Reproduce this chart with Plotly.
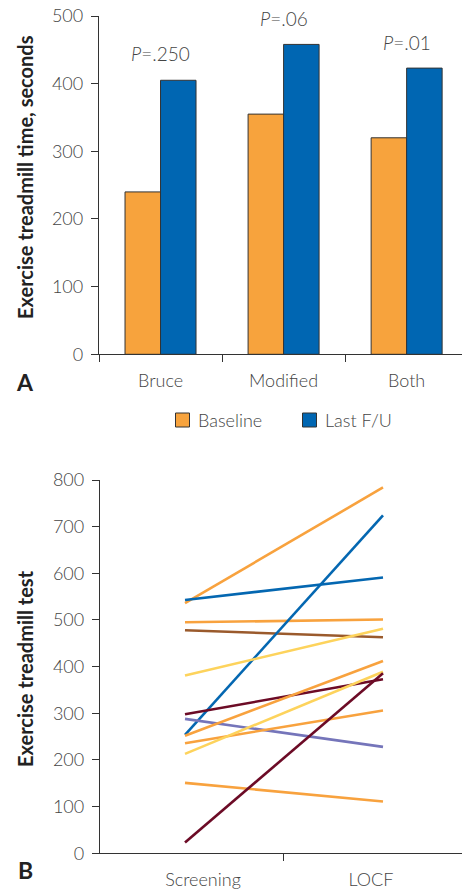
import plotly.graph_objects as go

# ---- Panel A data ----
categories = ["Bruce", "Modified", "Both"]
baseline = [240, 355, 320]
last_fu = [405, 458, 423]
p_labels = ["<i>P</i>=.250", "<i>P</i>=.06", "<i>P</i>=.01"]
p_label_y = [445, 497, 461]

# ---- Panel B data ----
time_points = ["Screening", "LOCF"]
screening = [536, 543, 495, 478, 254, 381, 298, 288, 252, 236, 213, 151, 23]
locf = [784, 591, 501, 463, 724, 481, 373, 228, 412, 306, 389, 111, 386]
line_colors = ["#F8A23E", "#0467B1", "#F8A23E", "#9A5A2C", "#0467B1", "#FDD35C",
               "#6C0B26", "#7575BA", "#F8A23E", "#F8A23E", "#FDD35C", "#F8A23E", "#6C0B26"]

W, H = 462, 895
FONT = "Lato"
TICKC = "#444444"
BASE_C = "#F7A33D"
FU_C = "#0066B2"
LIGHT = dict(family=FONT, size=18, color=TICKC, weight=300)

fig = go.Figure()

fig.add_trace(go.Bar(x=categories, y=baseline, name="Baseline",
                     marker=dict(color=BASE_C, line=dict(color="#333333", width=1)),
                     xaxis="x", yaxis="y"))
fig.add_trace(go.Bar(x=categories, y=last_fu, name="Last F/U",
                     marker=dict(color=FU_C, line=dict(color="#333333", width=1)),
                     xaxis="x", yaxis="y"))

for s, l, c in zip(screening, locf, line_colors):
    fig.add_trace(go.Scatter(x=[0, 1], y=[s, l], mode="lines",
                             line=dict(color=c, width=2.6),
                             showlegend=False, hoverinfo="skip",
                             xaxis="x2", yaxis="y2"))

def px(v):
    return v / W

def py(v):
    return 1 - v / H

axis_common = dict(showline=True, linecolor="#333333", linewidth=1.3,
                   ticks="outside", tickcolor="#333333", ticklen=7,
                   showgrid=False, zeroline=False, ticklabeloverflow="allow",
                   tickfont=LIGHT)

fig.update_layout(
    width=W, height=H,
    margin=dict(l=0, r=0, t=0, b=0),
    paper_bgcolor="white", plot_bgcolor="white",
    barmode="group", bargap=0.423, bargroupgap=0,
    showlegend=False,
    xaxis=dict(domain=[px(99), 1], range=[-0.5, 2.45], anchor="y",
               tickson="boundaries", type="category", automargin=False,
               ticklabelstandoff=10, **axis_common),
    yaxis=dict(domain=[py(354.3), py(16)], range=[0, 500], anchor="x",
               tickvals=[0, 100, 200, 300, 400, 500], automargin=False,
               ticklabelstandoff=4, **axis_common),
    xaxis2=dict(domain=[px(100), 1], range=[-0.4293, 1.399], anchor="y2",
                tickvals=[0.0909, 0.939], ticktext=time_points, automargin=False,
                minor=dict(tickvals=[0.495], ticks="outside", ticklen=7, tickcolor="#333333"),
                showline=True, linecolor="#333333", linewidth=1.3, ticks="",
                showgrid=False, zeroline=False, ticklabelstandoff=10,
                ticklabeloverflow="allow", tickfont=LIGHT),
    yaxis2=dict(domain=[py(853.3), py(480)], range=[0, 800], anchor="x2",
                tickvals=list(range(0, 801, 100)), automargin=False,
                ticklabelstandoff=4, **axis_common),
)

annotations = []
for cat, txt, yv in zip(categories, p_labels, p_label_y):
    annotations.append(dict(x=cat, y=yv, xref="x", yref="y", text=txt, showarrow=False,
                            font=dict(family=FONT, size=19, color=TICKC, weight=300),
                            xanchor="center", yanchor="middle"))
annotations += [
    dict(x=px(25), y=py(177), xref="paper", yref="paper", text="<b>Exercise treadmill time, seconds</b>",
         textangle=-90, showarrow=False, font=dict(family=FONT, size=20, color="#222222"),
         xanchor="center", yanchor="middle"),
    dict(x=px(25), y=py(669), xref="paper", yref="paper", text="<b>Exercise treadmill test</b>",
         textangle=-90, showarrow=False, font=dict(family=FONT, size=20, color="#222222"),
         xanchor="center", yanchor="middle"),
    dict(x=px(25), y=py(382), xref="paper", yref="paper", text="<b>A</b>",
         showarrow=False, font=dict(family=FONT, size=23, color="#222222"),
         xanchor="center", yanchor="middle"),
    dict(x=px(25), y=py(870), xref="paper", yref="paper", text="<b>B</b>",
         showarrow=False, font=dict(family=FONT, size=23, color="#222222"),
         xanchor="center", yanchor="middle"),
    # legend texts
    dict(x=px(196), y=py(420), xref="paper", yref="paper", text="Baseline",
         showarrow=False, font=LIGHT, xanchor="left", yanchor="middle"),
    dict(x=px(323), y=py(420), xref="paper", yref="paper", text="Last F/U",
         showarrow=False, font=LIGHT, xanchor="left", yanchor="middle"),
]
shapes = [
    dict(type="rect", xref="paper", yref="paper", x0=px(175.5), x1=px(189.5), y0=py(427), y1=py(413),
         fillcolor=BASE_C, line=dict(color="#333333", width=1)),
    dict(type="rect", xref="paper", yref="paper", x0=px(302.5), x1=px(316.5), y0=py(427), y1=py(413),
         fillcolor=FU_C, line=dict(color="#333333", width=1)),
]
fig.update_layout(annotations=annotations, shapes=shapes)

fig.write_html("out.html", config={"displayModeBar": False},
               post_script="document.body.style.margin='0';document.body.style.overflow='hidden';")
